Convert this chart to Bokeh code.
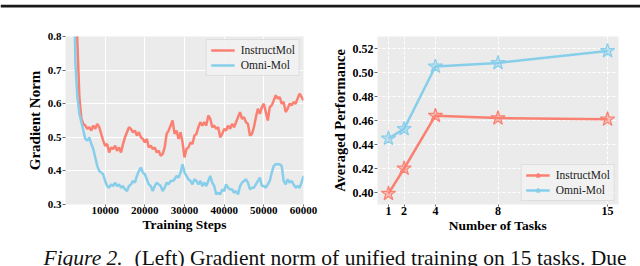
from bokeh.plotting import figure
from bokeh.layouts import column, row
from bokeh.models import Range1d, FixedTicker, PrintfTickFormatter, Legend, LegendItem, Label
from bokeh.embed import file_html
from bokeh.resources import INLINE

# ---------------- data ----------------
steps = [2000, 2500, 3000, 3500, 4000, 4500, 5000, 5500, 6000, 6500, 7000, 7500, 8000, 8500, 9000, 9500,
         10000, 10500, 11000, 11500, 12000, 12500, 13000, 13500, 14000, 14500, 15000, 15500, 16000, 16500,
         17000, 17500, 18000, 18500, 19000, 19500, 20000, 20500, 21000, 21500, 22000, 22500, 23000, 23500,
         24000, 24500, 25000, 25500, 26000, 26500, 27000, 27500, 28000, 28500, 29000, 29500, 30000, 30500,
         31000, 31500, 32000, 32500, 33000, 33500, 34000, 34500, 35000, 35500, 36000, 36500, 37000, 37500,
         38000, 38500, 39000, 39500, 40000, 40500, 41000, 41500, 42000, 42500, 43000, 43500, 44000, 44500,
         45000, 45500, 46000, 46500, 47000, 47500, 48000, 48500, 49000, 49500, 50000, 50500, 51000, 51500,
         52000, 52500, 53000, 53500, 54000, 54500, 55000, 55500, 56000, 56500, 57000, 57500, 58000, 58500,
         59000, 59500, 60000]

instructmol_grad = [1.50, 1.10, 0.78, 0.62, 0.555, 0.54, 0.535, 0.525, 0.53, 0.52, 0.535, 0.525, 0.54, 0.53, 0.51, 0.49,
                    0.475, 0.48, 0.455, 0.47, 0.465, 0.475, 0.46, 0.47, 0.455, 0.48, 0.50, 0.515, 0.53, 0.525,
                    0.515, 0.52, 0.505, 0.515, 0.50, 0.495, 0.485, 0.495, 0.47, 0.475, 0.465, 0.47, 0.455, 0.46,
                    0.445, 0.45, 0.47, 0.51, 0.52, 0.535, 0.55, 0.51, 0.52, 0.495, 0.515, 0.485, 0.44, 0.465,
                    0.47, 0.485, 0.48, 0.505, 0.51, 0.53, 0.545, 0.535, 0.545, 0.535, 0.565, 0.555, 0.53, 0.535,
                    0.525, 0.53, 0.50, 0.51, 0.525, 0.52, 0.535, 0.525, 0.54, 0.53, 0.545, 0.56, 0.575, 0.555,
                    0.56, 0.545, 0.54, 0.505, 0.51, 0.53, 0.56, 0.585, 0.57, 0.59, 0.60, 0.575, 0.55, 0.59,
                    0.595, 0.61, 0.625, 0.615, 0.62, 0.60, 0.605, 0.575, 0.585, 0.60, 0.595, 0.605, 0.60, 0.615,
                    0.63, 0.62, 0.61]

omnimol_grad = [1.10, 0.72, 0.62, 0.57, 0.545, 0.52, 0.495, 0.49, 0.50, 0.48, 0.465, 0.44, 0.415, 0.40, 0.395, 0.39,
                0.37, 0.355, 0.35, 0.36, 0.355, 0.365, 0.355, 0.36, 0.35, 0.355, 0.345, 0.34, 0.355, 0.36,
                0.37, 0.365, 0.385, 0.40, 0.41, 0.395, 0.39, 0.375, 0.36, 0.355, 0.34, 0.355, 0.365, 0.36,
                0.355, 0.34, 0.35, 0.365, 0.36, 0.37, 0.37, 0.375, 0.385, 0.38, 0.395, 0.42, 0.395, 0.385,
                0.375, 0.37, 0.36, 0.375, 0.37, 0.36, 0.37, 0.355, 0.365, 0.355, 0.37, 0.385, 0.365, 0.355,
                0.33, 0.335, 0.33, 0.345, 0.34, 0.36, 0.35, 0.345, 0.345, 0.335, 0.34, 0.33, 0.355, 0.365,
                0.37, 0.375, 0.365, 0.345, 0.35, 0.35, 0.36, 0.37, 0.38, 0.355, 0.355, 0.35, 0.36, 0.37,
                0.395, 0.415, 0.42, 0.42, 0.42, 0.415, 0.37, 0.36, 0.375, 0.365, 0.37, 0.36, 0.35, 0.355,
                0.35, 0.365, 0.385]

left_xticks = [10000, 20000, 30000, 40000, 50000, 60000]
left_yticks = [0.3, 0.4, 0.5, 0.6, 0.7, 0.8]

num_tasks = [1, 2, 4, 8, 15]
instructmol_perf = [0.399, 0.420, 0.464, 0.462, 0.461]
omnimol_perf = [0.445, 0.453, 0.505, 0.508, 0.518]
right_yticks = [0.40, 0.42, 0.44, 0.46, 0.48, 0.50, 0.52]

RED = "#FA8072"
BLUE = "#87CEEB"
SERIF = "'Liberation Serif', 'Times New Roman', serif"
BG = "#EBEBEB"


def style(p, xticks, yticks, yfmt, dashed):
    p.background_fill_color = BG
    p.border_fill_color = "white"
    p.outline_line_color = None
    p.xaxis.ticker = FixedTicker(ticks=xticks)
    p.yaxis.ticker = FixedTicker(ticks=yticks)
    p.yaxis.formatter = PrintfTickFormatter(format=yfmt)
    for ax in (p.xaxis[0], p.yaxis[0]):
        ax.axis_line_color = None
        ax.major_tick_line_color = "#666666"
        ax.major_tick_in = 0
        ax.minor_tick_line_color = None
        ax.major_label_text_font = SERIF
        ax.major_label_text_font_style = "bold"
        ax.major_label_text_color = "black"
        ax.axis_label_text_font = SERIF
        ax.axis_label_text_font_style = "bold"
        ax.axis_label_text_color = "black"
    p.xaxis.major_tick_out = 2
    p.xaxis.major_label_standoff = 0
    p.xaxis.axis_label_standoff = 0
    p.yaxis.major_tick_out = 3
    p.yaxis.major_label_standoff = 1
    p.yaxis.axis_label_standoff = 2
    for g in (p.xgrid[0], p.ygrid[0]):
        g.grid_line_color = "white"
        g.grid_line_width = 1
        if dashed:
            g.grid_line_dash = "3 2"


# ---------------- top rule (3px dark band at the very top) ----------------
top = figure(width=640, height=8, output_backend="svg", toolbar_location=None,
             x_range=Range1d(0, 1), y_range=Range1d(0, 8), min_border=0)
top.axis.visible = False
top.grid.visible = False
top.outline_line_color = None
top.background_fill_color = "white"
top.border_fill_color = "white"
top.quad(left=[0], right=[1], bottom=[5], top=[8], fill_color="#1a1a1a", line_color=None)

# ---------------- left plot ----------------
p1 = figure(width=328, height=232, output_backend="svg", toolbar_location=None,
            x_range=Range1d(0, 60000), y_range=Range1d(0.3, 0.8),
            min_border_left=65, min_border_right=25, min_border_top=28, min_border_bottom=36)
style(p1, left_xticks, left_yticks, "%.1f", False)
p1.xaxis.axis_label = "Training Steps"
p1.yaxis.axis_label = "Gradient Norm"
p1.xaxis.major_label_text_font_size = "11px"
p1.yaxis.major_label_text_font_size = "11px"
p1.xaxis.axis_label_text_font_size = "13.5px"
p1.yaxis.axis_label_text_font_size = "15px"

r1 = p1.line(steps, instructmol_grad, line_color=RED, line_width=2.5)
r2 = p1.line(steps, omnimol_grad, line_color=BLUE, line_width=2.5)
leg1 = Legend(items=[LegendItem(label="InstructMol", renderers=[r1]),
                     LegendItem(label="Omni-Mol", renderers=[r2])],
              location="top_right")
p1.add_layout(leg1)

# ---------------- right plot ----------------
p2 = figure(width=312, height=232, output_backend="svg", toolbar_location=None,
            x_range=Range1d(0.3, 15.7), y_range=Range1d(0.39, 0.53),
            min_border_left=47, min_border_right=22, min_border_top=25, min_border_bottom=36)
style(p2, num_tasks, right_yticks, "%.2f", True)
p2.xaxis.axis_label = "Number of Tasks"
p2.yaxis.axis_label = "Averaged Performance"
p2.xaxis.major_label_text_font_size = "12px"
p2.yaxis.major_label_text_font_size = "12px"
p2.xaxis.axis_label_text_font_size = "13.5px"
p2.yaxis.axis_label_text_font_size = "14.5px"

l1 = p2.line(num_tasks, instructmol_perf, line_color=RED, line_width=2.5)
m1 = p2.scatter(num_tasks, instructmol_perf, marker="star", size=15, fill_color=RED, fill_alpha=0.45,
                line_color=RED, line_width=1.2)
l2 = p2.line(num_tasks, omnimol_perf, line_color=BLUE, line_width=2.5)
m2 = p2.scatter(num_tasks, omnimol_perf, marker="star", size=15, fill_color=BLUE, fill_alpha=0.45,
                line_color=BLUE, line_width=1.2)
leg2 = Legend(items=[LegendItem(label="InstructMol", renderers=[l1, m1]),
                     LegendItem(label="Omni-Mol", renderers=[l2, m2])],
              location="bottom_right")
p2.add_layout(leg2)

for lg in (leg1, leg2):
    lg.label_text_font = SERIF
    lg.label_text_font_size = "11.5px"
    lg.label_text_color = "#222222"
    lg.glyph_width = 24
    lg.glyph_height = 12
    lg.label_height = 12
    lg.spacing = 3
    lg.padding = 4
    lg.margin = 3
    lg.label_standoff = 6
    lg.border_line_color = "#CCCCCC"
    lg.background_fill_color = "#F2F2F2"
    lg.background_fill_alpha = 0.9

# ---------------- caption ----------------
cap = figure(width=640, height=26, output_backend="svg", toolbar_location=None,
             x_range=Range1d(0, 640), y_range=Range1d(26, 0),
             min_border=0)
cap.axis.visible = False
cap.grid.visible = False
cap.outline_line_color = None
cap.background_fill_color = "white"
cap.border_fill_color = "white"
cap.add_layout(Label(x=43, y=17, x_units="screen", y_units="data", text="Figure 2.",
                     text_font=SERIF, text_font_style="italic", text_font_size="21.5px",
                     text_baseline="alphabetic", text_color="#111111"))
cap.add_layout(Label(x=134, y=17, x_units="screen", y_units="data",
                     text="(Left) Gradient norm of unified training on 15 tasks. Due",
                     text_font=SERIF, text_font_size="21.5px",
                     text_baseline="alphabetic", text_color="#111111"))

layout = column(top, row(p1, p2), cap)
open("out.html", "w").write(file_html(layout, INLINE))
